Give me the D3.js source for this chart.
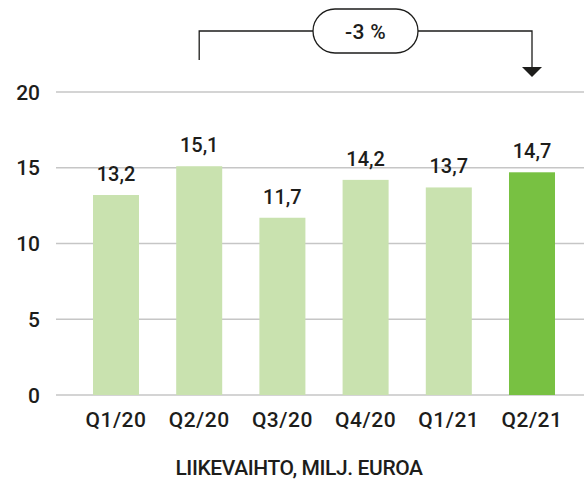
<!doctype html>
<html>
  <head>
    <meta charset="utf-8">
    <script src="https://cdn.jsdelivr.net/npm/d3@7"></script>
    <style>
      body { margin: 0; background: #fff; }
      svg text { fill: #1d1d1b; font-family: Roboto, sans-serif; font-weight: 500; }
    </style>
  </head>
  <body>
    <svg id="chart"></svg>
    <script>
      // data
      var quarters = ["Q1/20", "Q2/20", "Q3/20", "Q4/20", "Q1/21", "Q2/21"];
      var revenue = [13.2, 15.1, 11.7, 14.2, 13.7, 14.7];
      var valueLabels = ["13,2", "15,1", "11,7", "14,2", "13,7", "14,7"];
      var yTicks = [0, 5, 10, 15, 20];
      var changeLabel = "-3 %";
      var changeFrom = "Q2/20", changeTo = "Q2/21";
      var title = "LIIKEVAIHTO, MILJ. EUROA";

      var width = 584, height = 479;

      var svg = d3.select("#chart").attr("width", width).attr("height", height);

      var x = d3.scaleBand().domain(quarters)
          .range([74.4, 573.6]).paddingInner(0.447).paddingOuter(0.2235);
      var y = d3.scaleLinear().domain([0, 20]).range([395, 92]);

      // gridlines
      svg.append("g").selectAll("line").data(yTicks).enter().append("line")
          .attr("x1", 56).attr("x2", width)
          .attr("y1", d => y(d)).attr("y2", d => y(d))
          .attr("stroke", "#c6c6c6").attr("stroke-width", 1.5);

      // y axis labels
      svg.append("g").selectAll("text").data(yTicks).enter().append("text")
          .attr("x", 40).attr("y", d => y(d) + 7.5)
          .attr("text-anchor", "end")
          .style("font-size", "21px")
          .text(d => d);

      // bars
      svg.append("g").selectAll("rect").data(revenue).enter().append("rect")
          .attr("x", (d, i) => x(quarters[i]))
          .attr("width", x.bandwidth())
          .attr("y", d => y(d))
          .attr("height", d => y(0) - y(d))
          .attr("fill", (d, i) => i === quarters.length - 1 ? "#78c142" : "#c9e2af");

      // value labels
      svg.append("g").selectAll("text").data(revenue).enter().append("text")
          .attr("x", (d, i) => x(quarters[i]) + x.bandwidth() / 2)
          .attr("y", d => y(d) - 14)
          .attr("text-anchor", "middle")
          .style("font-size", "20px")
          .text((d, i) => valueLabels[i]);

      // x axis labels
      svg.append("g").selectAll("text").data(quarters).enter().append("text")
          .attr("x", d => x(d) + x.bandwidth() / 2)
          .attr("y", 427)
          .attr("text-anchor", "middle")
          .style("font-size", "21px").style("letter-spacing", "0.5px")
          .text(d => d);

      // title
      svg.append("text")
          .attr("x", 299).attr("y", 475)
          .attr("text-anchor", "middle")
          .style("font-size", "21px").style("letter-spacing", "-0.4px")
          .text(title);

      // change annotation
      var xa = x(changeFrom) + x.bandwidth() / 2;
      var xb = x(changeTo) + x.bandwidth() / 2;
      var ly = 31, pillL = 313, pillR = 418, pillH = 44;
      var ann = svg.append("g").attr("fill", "none").attr("stroke", "#1d1d1b").attr("stroke-width", 1.3);
      ann.append("path").attr("d", "M" + xa + ",60V" + ly + "H" + pillL);
      ann.append("path").attr("d", "M" + pillR + "," + ly + "H" + xb + "V68");
      ann.append("rect").attr("x", pillL).attr("y", ly - pillH / 2)
          .attr("width", pillR - pillL).attr("height", pillH).attr("rx", pillH / 2);
      svg.append("path")
          .attr("d", "M" + (xb - 10) + ",67L" + (xb + 10) + ",67L" + xb + ",77Z")
          .attr("fill", "#1d1d1b");
      svg.append("text")
          .attr("x", (pillL + pillR) / 2).attr("y", 39)
          .attr("text-anchor", "middle")
          .style("font-size", "21px").style("letter-spacing", "0.3px")
          .text(changeLabel);
    </script>
  </body>
</html>
